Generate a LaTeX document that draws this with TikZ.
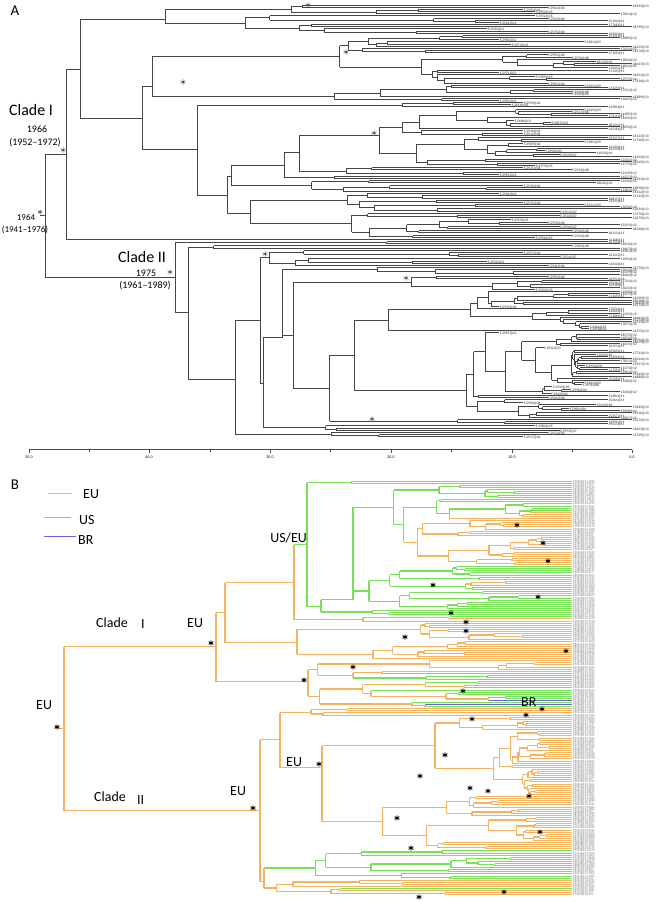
\documentclass[tikz,border=0pt]{standalone}
\usepackage{fontspec}
\setmainfont{Carlito}
\definecolor{eu}{RGB}{244,180,95}
\definecolor{us}{RGB}{120,226,86}
\definecolor{br}{RGB}{112,92,222}
\definecolor{treeA}{RGB}{70,70,70}
\tikzset{
  EUc/.style={draw=eu,line width=1.3bp},
  USc/.style={draw=us,line width=1.3bp},
  BRc/.style={draw=br,line width=1.3bp},
  labA/.style={anchor=west,inner sep=0pt,text height=1.6pt,text depth=0pt,font=\fontsize{3.6}{3.6}\selectfont,text=black!85},
  labB/.style={anchor=west,inner sep=0pt,text height=1.5pt,text depth=0pt,font=\fontsize{2.9}{2.9}\selectfont,text=black!55},
  bigt/.style={font=\fontsize{16}{16}\selectfont,anchor=west,inner sep=0pt},
  yrt/.style={font=\fontsize{10}{10}\selectfont,inner sep=0pt},
  legt/.style={font=\fontsize{14}{14}\selectfont,anchor=west,inner sep=0pt},
  axt/.style={font=\fontsize{4}{4}\selectfont,inner sep=0pt},
}
\makeatletter
\@namedef{brst@Ac}{\pgfsetcolor{treeA}\pgfsetlinewidth{0.75bp}}
\@namedef{brst@EUc}{\pgfsetcolor{eu}\pgfsetlinewidth{1.3bp}}
\@namedef{brst@USc}{\pgfsetcolor{us}\pgfsetlinewidth{1.3bp}}
\@namedef{brst@BRc}{\pgfsetcolor{br}\pgfsetlinewidth{1.3bp}}
\newcommand\mkline[5]{%
  \begin{pgfscope}%
  \ifcsname brst@#5\endcsname\@nameuse{brst@#5}\else\pgfsetcolor{eu}\pgfsetlinewidth{1.3bp}\fi
  \pgfpathmoveto{\pgfqpoint{#1bp}{-#2bp}}%
  \pgfpathlineto{\pgfqpoint{#3bp}{-#4bp}}%
  \pgfusepath{stroke}%
  \end{pgfscope}}
\makeatother
\newcommand\mklab[5]{\node[#4] (#5) at (#1,#2) {#3};}
\newcommand\astA[2]{\draw[black!75,line width=0.5bp,shift={(#1,#2)}] (0,-2.6) -- (0,2.6) (-2.3,-1.3) -- (2.3,1.3) (-2.3,1.3) -- (2.3,-1.3);}
\newcommand\astB[2]{\draw[black,line width=0.9bp,shift={(#1,#2)}] (0,-2.7) -- (0,2.7) (-2.35,-1.35) -- (2.35,1.35) (-2.35,1.35) -- (2.35,-1.35);}

\ExplSyntaxOn
\fp_new:N \g_rt_seed_fp
\fp_gset:Nn \g_rt_seed_fp {20240607}
\fp_new:N \g_rt_ret_fp
\fp_new:N \g_rt_yz_fp
\fp_new:N \g_rt_dy_fp
\fp_new:N \g_rt_xint_fp
\fp_new:N \g_rt_xend_fp
\bool_new:N \g_rt_A_bool
\tl_new:N \g_rt_labs_tl
\tl_new:N \g_rt_lines_tl
\fp_new:N \l_rt_u_fp
\fp_new:N \l_rt_v_fp
\fp_new:N \l_rt_xn_fp
\fp_new:N \l_rt_ya_fp
\fp_new:N \l_rt_yb_fp
\fp_new:N \l_rt_y_fp
\fp_new:N \l_rt_xe_fp
\int_new:N \l_rt_m_int
\int_new:N \l_rt_yr_int
\tl_new:N \l_rt_col_tl
\tl_new:N \l_rt_ucol_tl
\tl_new:N \l_rt_tmp_tl
\tl_new:N \l_rt_lab_tl
\bool_new:N \l_rt_uni_bool

\cs_new_protected:Npn \rt_rand:N #1
 {
  \fp_gset:Nn \g_rt_seed_fp
   { \g_rt_seed_fp * 16807 - 2147483647 * trunc ( \g_rt_seed_fp * 16807 / 2147483647 ) }
  \fp_set:Nn #1 { \g_rt_seed_fp / 2147483647 }
 }
\cs_new_protected:Npn \rt_line:nnnnn #1#2#3#4#5
 { \tl_gput_right:Nn \g_rt_lines_tl { \mkline {#1} {#2} {#3} {#4} {#5} } }
\cs_generate_variant:Nn \rt_line:nnnnn { xxxxx }
\cs_new_protected:Npn \rt_lab:nnnnn #1#2#3#4#5
 { \tl_gput_right:Nn \g_rt_labs_tl { \mklab {#1} {#2} {#3} {#4} {#5} } }
\cs_generate_variant:Nn \rt_lab:nnnnn { xxxnx }

\cs_new:Npn \rt_bscan:nnn #1#2#3
 {
  \int_compare:nNnTF {#1} > {#2}
   { \rt_bscan:nnn {#1} }
   { \use_i_delimit_by_q_stop:nw {#3} }
 }
\cs_new:Npn \rt_col:n #1
 {
  \bool_if:NTF \g_rt_A_bool
   { Ac }
   {
    \rt_bscan:nnn {#1}
     {14}{USc} {40}{EUc} {46}{USc} {50}{EUc} {53}{USc} {54}{EUc} {65}{USc}
     {91}{EUc} {97}{USc} {98}{EUc} {104}{USc} {105}{BRc} {106}{USc} {107}{BRc}
     {108}{USc} {176}{EUc} {190}{USc} {194}{EUc} {195}{USc} {9999}{EUc}
     \q_stop
   }
 }
\cs_new_protected:Npn \rt_uniform:nn #1#2
 {
  \tl_set:Nx \l_rt_ucol_tl { \rt_col:n {#1} }
  \bool_set_true:N \l_rt_uni_bool
  \int_step_inline:nnn {#1} {#2}
   {
    \tl_set:Nx \l_rt_tmp_tl { \rt_col:n {##1} }
    \tl_if_eq:NNF \l_rt_tmp_tl \l_rt_ucol_tl { \bool_set_false:N \l_rt_uni_bool }
   }
 }

\cs_new_protected:Npn \rt_leaf:nnn #1#2#3
 {
  \fp_set:Nn \l_rt_y_fp { floor ( \g_rt_yz_fp + \g_rt_dy_fp * #2 ) + 0.5 }
  \tl_set:Nx \l_rt_col_tl { \rt_col:n {#2} }
  \rt_rand:N \l_rt_u_fp
  \rt_rand:N \l_rt_v_fp
  \bool_if:NTF \g_rt_A_bool
   {
    \fp_compare:nNnTF { \l_rt_u_fp } < { 0.62 }
     { \int_set:Nn \l_rt_yr_int { 11 + \fp_eval:n { trunc ( \l_rt_v_fp * 3 ) } } }
     { \int_set:Nn \l_rt_yr_int { \fp_eval:n { trunc ( \l_rt_v_fp * 11 ) } } }
    \fp_set:Nn \l_rt_xe_fp
     { round ( max ( #1 + 8 , \g_rt_xend_fp - 12.07 * ( 13 - \l_rt_yr_int ) ) , 2 ) }
    \rt_rand:N \l_rt_v_fp
    \int_compare:nNnTF { \l_rt_yr_int } < { 10 }
     { \tl_set:Nx \l_rt_lab_tl { F.29 \fp_eval:n { 10 + trunc ( \l_rt_v_fp * 89 ) } @0 \int_use:N \l_rt_yr_int } }
     { \tl_set:Nx \l_rt_lab_tl { 1 \fp_eval:n { 1000 + trunc ( \l_rt_v_fp * 8999 ) } @ \int_use:N \l_rt_yr_int } }
    \rt_line:xxxxx {#1} { \fp_use:N \l_rt_y_fp } { \fp_use:N \l_rt_xe_fp } { \fp_use:N \l_rt_y_fp } { \l_rt_col_tl }
    \rt_lab:xxxnx { \fp_eval:n { \l_rt_xe_fp + 0.6 } } { \fp_eval:n { \l_rt_y_fp + 0.8 } } { \l_rt_lab_tl } { labA } { la #2 }
   }
   {
    \fp_set:Nn \l_rt_xe_fp { max ( #1 + 3 , \g_rt_xend_fp ) }
    \tl_set:Nx \l_rt_lab_tl
     { P \fp_eval:n { 10000 + trunc ( \l_rt_v_fp * 89999 ) } @ \fp_eval:n { 10 + trunc ( \l_rt_u_fp * 4 ) } - \fp_eval:n { 100 + trunc ( \l_rt_u_fp * 8999 ) } }
    \rt_line:xxxxx {#1} { \fp_use:N \l_rt_y_fp } { \fp_use:N \l_rt_xe_fp } { \fp_use:N \l_rt_y_fp } { \l_rt_col_tl }
    \rt_lab:xxxnx { 573.2 } { \fp_eval:n { \l_rt_y_fp + 0.7 } } { \l_rt_lab_tl } { labB } { lb #2 }
   }
  \fp_gset_eq:NN \g_rt_ret_fp \l_rt_y_fp
 }

\cs_new_protected:Npn \rt_tree:nnnn #1#2#3#4
 {
  \group_begin:
  \int_compare:nNnTF {#2} = {#3}
   { \rt_leaf:nnn {#1} {#2} {#4} }
   {
    \rt_uniform:nn {#2} {#3}
    \bool_if:NTF \l_rt_uni_bool
     { \tl_set_eq:NN \l_rt_col_tl \l_rt_ucol_tl }
     { \tl_set:Nn \l_rt_col_tl {#4} }
    \rt_rand:N \l_rt_u_fp
    \int_set:Nn \l_rt_m_int { #2 + \fp_eval:n { trunc ( \l_rt_u_fp * ( #3 - #2 ) ) } }
    \rt_rand:N \l_rt_u_fp
    \fp_set:Nn \l_rt_xn_fp
     { round ( max ( #1 + 1.5 , #1 + ( \g_rt_xint_fp - #1 ) * ( 0.03 + 0.5 * \l_rt_u_fp ^ 1.6 ) ) , 2 ) }
    \rt_tree:xxxx { \fp_use:N \l_rt_xn_fp } {#2} { \int_use:N \l_rt_m_int } { \l_rt_col_tl }
    \fp_set_eq:NN \l_rt_ya_fp \g_rt_ret_fp
    \rt_tree:xxxx { \fp_use:N \l_rt_xn_fp } { \int_eval:n { \l_rt_m_int + 1 } } {#3} { \l_rt_col_tl }
    \fp_set_eq:NN \l_rt_yb_fp \g_rt_ret_fp
    \fp_set:Nn \l_rt_y_fp { round ( ( \l_rt_ya_fp + \l_rt_yb_fp ) / 2 , 2 ) }
    \rt_line:xxxxx { \fp_use:N \l_rt_xn_fp } { \fp_use:N \l_rt_ya_fp } { \fp_use:N \l_rt_xn_fp } { \fp_use:N \l_rt_yb_fp } { \l_rt_col_tl }
    \rt_line:xxxxx {#1} { \fp_use:N \l_rt_y_fp } { \fp_use:N \l_rt_xn_fp } { \fp_use:N \l_rt_y_fp } { \l_rt_col_tl }
    \fp_gset_eq:NN \g_rt_ret_fp \l_rt_y_fp
   }
  \group_end:
 }
\cs_generate_variant:Nn \rt_tree:nnnn { xxxx }

\cs_new_protected:Npn \rt_fnode:nnnnnn #1#2#3#4#5#6
 {
  \group_begin:
  #5
  \fp_set_eq:NN \l_rt_ya_fp \g_rt_ret_fp
  #6
  \fp_set_eq:NN \l_rt_yb_fp \g_rt_ret_fp
  \tl_if_blank:nTF {#3}
   { \fp_set:Nn \l_rt_y_fp { round ( ( \l_rt_ya_fp + \l_rt_yb_fp ) / 2 , 2 ) } }
   { \fp_set:Nn \l_rt_y_fp {#3} }
  \rt_line:xxxxx {#2} { \fp_eval:n { min ( \l_rt_ya_fp , \l_rt_yb_fp , \l_rt_y_fp ) } }
                 {#2} { \fp_eval:n { max ( \l_rt_ya_fp , \l_rt_yb_fp , \l_rt_y_fp ) } } {#4}
  \rt_line:xxxxx {#1} { \fp_use:N \l_rt_y_fp } {#2} { \fp_use:N \l_rt_y_fp } {#4}
  \fp_gset_eq:NN \g_rt_ret_fp \l_rt_y_fp
  \group_end:
 }

\cs_new_protected:Npn \SetPanel #1#2#3#4#5
 {
  \fp_gset:Nn \g_rt_yz_fp {#1}
  \fp_gset:Nn \g_rt_dy_fp {#2}
  \fp_gset:Nn \g_rt_xint_fp {#3}
  \fp_gset:Nn \g_rt_xend_fp {#4}
  \str_if_eq:nnTF {#5} {A} { \bool_gset_true:N \g_rt_A_bool } { \bool_gset_false:N \g_rt_A_bool }
 }
\cs_new_protected:Npn \FlushLabels { \tl_use:N \g_rt_labs_tl \tl_gclear:N \g_rt_labs_tl }
\cs_new_protected:Npn \FlushLines { \tl_use:N \g_rt_lines_tl \tl_gclear:N \g_rt_lines_tl }
\cs_new_eq:NN \RTree \rt_tree:nnnn
\cs_new_eq:NN \FNode \rt_fnode:nnnnnn
\ExplSyntaxOff

\begin{document}
\begin{tikzpicture}[x=1bp,y=-1bp]
\fill[white] (0,0) rectangle (662,902);
\useasboundingbox (0,0) rectangle (662,902);

% ---------------- Panel A tree ----------------
\SetPanel{5}{2.17}{590}{632}{A}
\FNode{40}{45}{215.5}{Ac}
 {\FNode{45}{66}{154.5}{Ac}
   {\FNode{66}{80}{69.5}{Ac}
     {\FNode{80}{165}{19.5}{Ac}{\RTree{165}{0}{4}{Ac}}{\RTree{165}{5}{13}{Ac}}}
     {\FNode{80}{142}{118.5}{Ac}
       {\FNode{142}{152}{86.5}{Ac}{\RTree{152}{14}{36}{Ac}}{\RTree{152}{37}{44}{Ac}}}
       {\FNode{142}{197}{149.5}{Ac}
         {\RTree{197}{45}{47}{Ac}}
         {\FNode{197}{227}{195.5}{Ac}
           {\FNode{227}{231}{176.5}{Ac}
             {\FNode{231}{284}{165.5}{Ac}
               {\FNode{284}{299}{152.5}{Ac}
                 {\FNode{299}{379}{135.5}{Ac}{\RTree{379}{48}{60}{Ac}}{\RTree{379}{61}{74}{Ac}}}
                 {\RTree{299}{75}{78}{Ac}}}
               {\RTree{284}{79}{80}{Ac}}}
             {\RTree{231}{81}{86}{Ac}}}
           {\FNode{227}{250}{213.5}{Ac}{\RTree{250}{87}{95}{Ac}}{\RTree{250}{96}{107}{Ac}}}}}}}
   {\RTree{66}{108}{108}{Ac}}}
 {\FNode{45}{175}{277.5}{Ac}
   {\RTree{175}{109}{110}{Ac}}
   {\FNode{175}{188}{312.5}{Ac}
     {\RTree{188}{111}{112}{Ac}}
     {\FNode{188}{235}{379.5}{Ac}
       {\FNode{235}{260}{320.5}{Ac}
         {\FNode{260}{269}{257.5}{Ac}{\RTree{269}{113}{116}{Ac}}{\RTree{269}{117}{120}{Ac}}}
         {\FNode{260}{263}{383.5}{Ac}
           {\FNode{263}{282}{337.5}{Ac}{\RTree{282}{121}{124}{Ac}}{\RTree{282}{125}{193}{Ac}}}
           {\RTree{263}{194}{196}{Ac}}}}
       {\RTree{235}{197}{199}{Ac}}}}}
\FlushLines

% axis
\draw[black!70,line width=0.6bp] (29,449.5) -- (632,449.5);
\foreach \x in {29,149,270,391,512,632}
  {\draw[black!70,line width=0.5bp] (\x,449.5) -- (\x,452.5);}
\foreach \x in {89,210,330,451,572}
  {\draw[black!70,line width=0.5bp] (\x,449.5) -- (\x,451.5);}

% stars A
\astA{308}{5}\astA{346}{52}\astA{183}{82}\astA{374}{133}\astA{63}{150}
\astA{40}{212}\astA{170}{272}\astA{265}{254}\astA{406}{278}\astA{372}{419}

% ---------------- Panel B tree ----------------
\SetPanel{481}{2.09}{560}{572}{B}
\FNode{57}{64}{728.5}{EUc}
 {\FNode{64}{216}{646.5}{EUc}
   {\FNode{216}{225}{612.5}{EUc}
     {\FNode{225}{294}{582.5}{EUc}
       {\FNode{294}{307}{544.5}{USc}
         {\RTree{307}{0}{1}{USc}}
         {\FNode{307}{321}{606.5}{USc}
           {\FNode{321}{353}{599.5}{USc}{\RTree{353}{2}{40}{USc}}{\RTree{353}{41}{61}{USc}}}
           {\RTree{321}{62}{64}{USc}}}}
       {\RTree{294}{65}{67}{EUc}}}
     {\FNode{225}{297}{642.5}{EUc}{\RTree{297}{68}{76}{EUc}}{\RTree{297}{77}{85}{EUc}}}}
   {\FNode{216}{308}{681.5}{EUc}{\RTree{308}{86}{95}{EUc}}{\RTree{308}{96}{108}{EUc}}}}
 {\FNode{64}{260}{810.5}{EUc}
   {\FNode{260}{280}{739.5}{EUc}
     {\FNode{280}{311}{712.5}{EUc}{\RTree{311}{109}{110}{EUc}}{\RTree{311}{111}{112}{EUc}}}
     {\FNode{280}{322}{767.5}{EUc}{\RTree{322}{113}{150}{EUc}}{\RTree{322}{151}{176}{EUc}}}}
   {\FNode{260}{264}{881.5}{EUc}{\RTree{264}{177}{190}{EUc}}{\RTree{264}{191}{198}{EUc}}}}
\FlushLines

% legend lines
\draw[EUc,line width=1bp] (48,493.5) -- (72,493.5);
\draw[USc,line width=1bp] (44,517.5) -- (71,517.5);
\draw[BRc] (44,536.5) -- (76,536.5);

% stars B
\astB{211}{643}\astB{57}{727}\astB{304}{680}\astB{253}{808}\astB{319}{764}
\astB{517}{525}\astB{543}{543}\astB{548}{561}\astB{433}{585}\astB{538}{597}
\astB{451}{613}\astB{466}{622}\astB{466}{631}\astB{405}{637}\astB{566}{651}
\astB{353}{667}\astB{463}{691}\astB{542}{709}\astB{526}{715}\astB{472}{719}
\astB{445}{755}\astB{420}{776}\astB{470}{788}\astB{488}{791}\astB{529}{796}
\astB{397}{818}\astB{540}{832}\astB{411}{848}\astB{504}{892}\astB{419}{897}

% ================= texts =================
\FlushLabels
\foreach \x/\l [count=\i] in {29/50.0,149/40.0,270/30.0,391/20.0,512/10.0,632/0.0}
  {\node[axt] (tk\i) at (\x,457.5) {\l};}
\node[font=\fontsize{15}{15}\selectfont,inner sep=0pt] (lblA) at (15,11) {A};
\node[bigt] (cIa) at (9,110) {Clade I};
\node[yrt] (y1966) at (37,129) {1966};
\node[yrt] (r1966) at (35,143) {(1952–1972)};
\node[font=\fontsize{9}{9}\selectfont,inner sep=0pt] (y1964) at (26,218) {1964};
\node[font=\fontsize{9}{9}\selectfont,inner sep=0pt] (r1964) at (25,230) {(1941–1976)};
\node[bigt] (cIIa) at (118,257) {Clade II};
\node[yrt] (y1975) at (146,273) {1975};
\node[yrt] (r1975) at (145,286) {(1961–1989)};

\node[font=\fontsize{15}{15}\selectfont,inner sep=0pt] (lblB) at (15,485) {B};
\node[legt] (legEU) at (83,494) {EU};
\node[legt] (legUS) at (79,520) {US};
\node[legt] (legBR) at (78,540) {BR};
\node[legt,anchor=east] (useu) at (307,538) {US/EU};
\node[legt] (cIb) at (96,623) {Clade};
\node[legt] (cIbn) at (141,624) {I};
\node[legt] (euI) at (187,623) {EU};
\node[legt] (euR) at (36,705) {EU};
\node[legt] (cIIb) at (94,797) {Clade};
\node[legt] (cIIbn) at (137,800) {II};
\node[legt] (euII) at (230,791) {EU};
\node[legt] (euII2) at (286,762) {EU};
\node[legt] (brl) at (521,702) {BR};
\end{tikzpicture}
\end{document}
